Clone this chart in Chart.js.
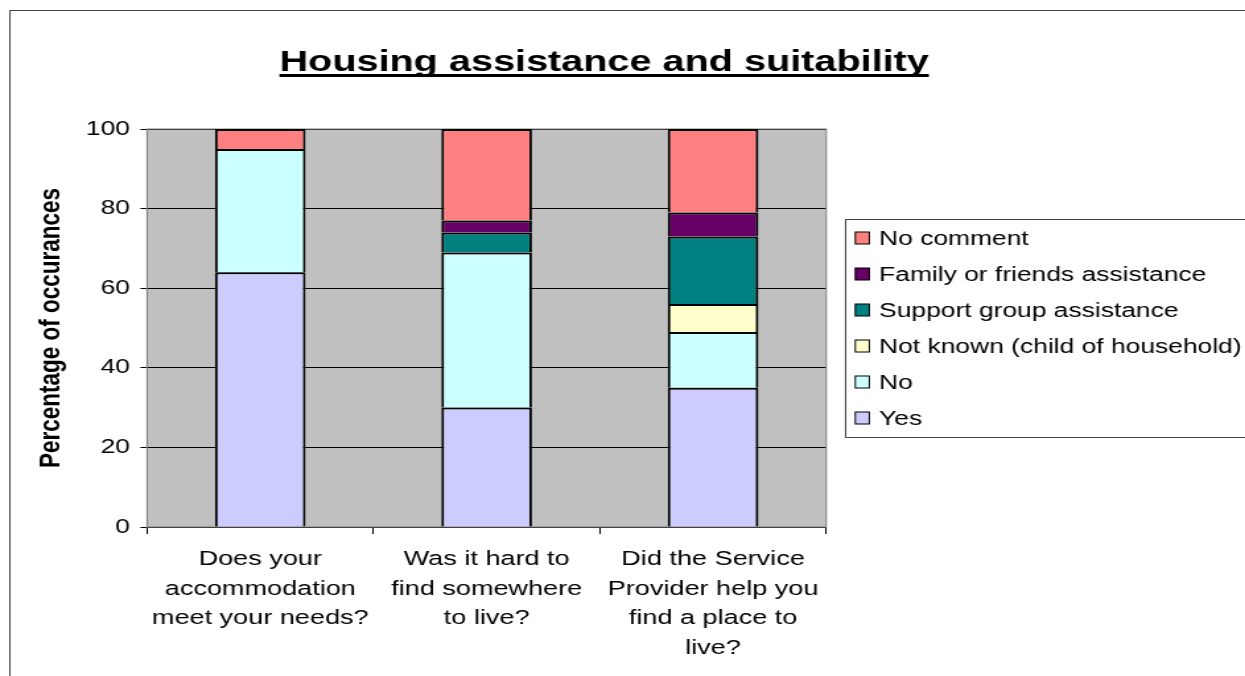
<!DOCTYPE html>
<html>
<head>
<meta charset="utf-8">
<script src="https://cdn.jsdelivr.net/npm/chart.js@4.4.1/dist/chart.umd.min.js"></script>
<style>
  html, body { margin: 0; padding: 0; background: #fff; overflow: hidden; }
  /* the chart is drawn narrow and stretched sideways, like the exported sheet */
  #wrap { width: 943px; height: 676px; transform: scaleX(1.3203); transform-origin: 0 0; }
</style>
</head>
<body>
<div id="wrap"><canvas id="housing" width="943" height="676"></canvas></div>
<script>
const categories = [
  ["Does your", "accommodation", "meet your needs?"],
  ["Was it hard to", "find somewhere", "to live?"],
  ["Did the Service", "Provider help you", "find a place to", "live?"]
];
const yesVals       = [64, 30, 35];
const noVals        = [31, 39, 14];
const notKnownVals  = [0, 0, 7];
const supportVals   = [0, 5, 17];
const familyVals    = [0, 3, 6];
const noCommentVals = [5, 23, 21];
const yTicks = [0, 20, 40, 60, 80, 100];

const FONT = "'Liberation Sans', Arial, sans-serif";

function series(label, data, color) {
  return { label: label, data: data, backgroundColor: color, borderColor: '#000', borderWidth: 2 };
}

const datasets = [
  series('Yes', yesVals, '#ccccff'),
  series('No', noVals, '#ccffff'),
  series('Not known (child of household)', notKnownVals, '#ffffcc'),
  series('Support group assistance', supportVals, '#008080'),
  series('Family or friends assistance', familyVals, '#660066'),
  series('No comment', noCommentVals, '#ff8080')
];

// frame, grey plot area, underlined title and boxed legend
const decor = {
  id: 'decor',
  beforeDraw(chart) {
    const { ctx, chartArea: a } = chart;
    ctx.save();
    ctx.fillStyle = '#fff';
    ctx.fillRect(0, 0, chart.width, chart.height);
    ctx.strokeStyle = '#444';
    ctx.lineWidth = 1;
    ctx.strokeRect(7.5, 10.5, chart.width + 20, chart.height + 20);
    ctx.fillStyle = '#c0c0c0';
    ctx.fillRect(a.left, a.top, a.width, a.height);
    ctx.restore();
  },
  beforeDatasetsDraw(chart) {
    const { ctx, chartArea: a } = chart;
    ctx.save();
    ctx.strokeStyle = '#808080';
    ctx.lineWidth = 1;
    ctx.strokeRect(a.left, a.top, a.width, a.height);
    ctx.restore();
  },
  afterDraw(chart) {
    const { ctx, chartArea: a } = chart;
    ctx.save();

    // title
    const title = 'Housing assistance and suitability';
    ctx.font = 'bold 30px ' + FONT;
    ctx.fillStyle = '#000';
    ctx.textAlign = 'center';
    ctx.textBaseline = 'alphabetic';
    const tx = 457.6;
    ctx.fillText(title, tx, 71);
    const tw = ctx.measureText(title).width;
    ctx.fillRect(tx - tw / 2, 74, tw, 3);

    // legend
    const lx = a.right + 14;
    const ly = 219;
    ctx.strokeStyle = '#444';
    ctx.lineWidth = 1;
    ctx.strokeRect(Math.round(lx) + 0.5, ly + 0.5, 500, 218);
    ctx.font = '20px ' + FONT;
    ctx.textAlign = 'left';
    ctx.textBaseline = 'middle';
    const items = chart.data.datasets.slice().reverse();
    items.forEach((ds, i) => {
      const cy = 238 + i * 36;
      ctx.fillStyle = ds.backgroundColor;
      ctx.fillRect(lx + 8, cy - 6, 10.6, 12);
      ctx.strokeStyle = '#000';
      ctx.strokeRect(lx + 8, cy - 6, 10.6, 12);
      ctx.fillStyle = '#000';
      ctx.fillText(ds.label, lx + 26, cy + 1);
    });
    ctx.restore();
  }
};

const ctx = document.getElementById('housing').getContext('2d');
const chart = new Chart(ctx, {
  type: 'bar',
  data: { labels: categories, datasets: datasets },
  plugins: [decor],
  options: {
    responsive: false,
    animation: false,
    layout: { padding: { top: 129, right: 317.2, bottom: 0, left: 0 } },
    datasets: { bar: { barPercentage: 0.4, categoryPercentage: 1 } },
    plugins: {
      legend: { display: false },
      title: { display: false },
      tooltip: { enabled: false }
    },
    scales: {
      x: {
        stacked: true,
        grid: { offset: true, drawOnChartArea: false, tickLength: 7, color: '#000' },
        border: { color: '#000' },
        ticks: {
          color: '#000', padding: 10, maxRotation: 0, autoSkip: false,
          font: { family: FONT, size: 20.5, lineHeight: 1.46 }
        },
        afterFit: (s) => { s.height = 149; }
      },
      y: {
        stacked: true,
        min: yTicks[0],
        max: yTicks[yTicks.length - 1],
        afterBuildTicks: (s) => { s.ticks = yTicks.map(v => ({ value: v })); },
        grid: { color: '#000', tickLength: 5 },
        border: { color: '#808080' },
        ticks: { color: '#000', padding: 8, font: { family: FONT, size: 20 } },
        title: {
          display: true,
          text: 'Percentage of occurances',
          color: '#000',
          font: { family: FONT, size: 22.5, weight: 'bold' },
          padding: { top: 25, bottom: 0 }
        },
        afterFit: (s) => { s.width = 111.4; }
      }
    }
  }
});
</script>
</body>
</html>
